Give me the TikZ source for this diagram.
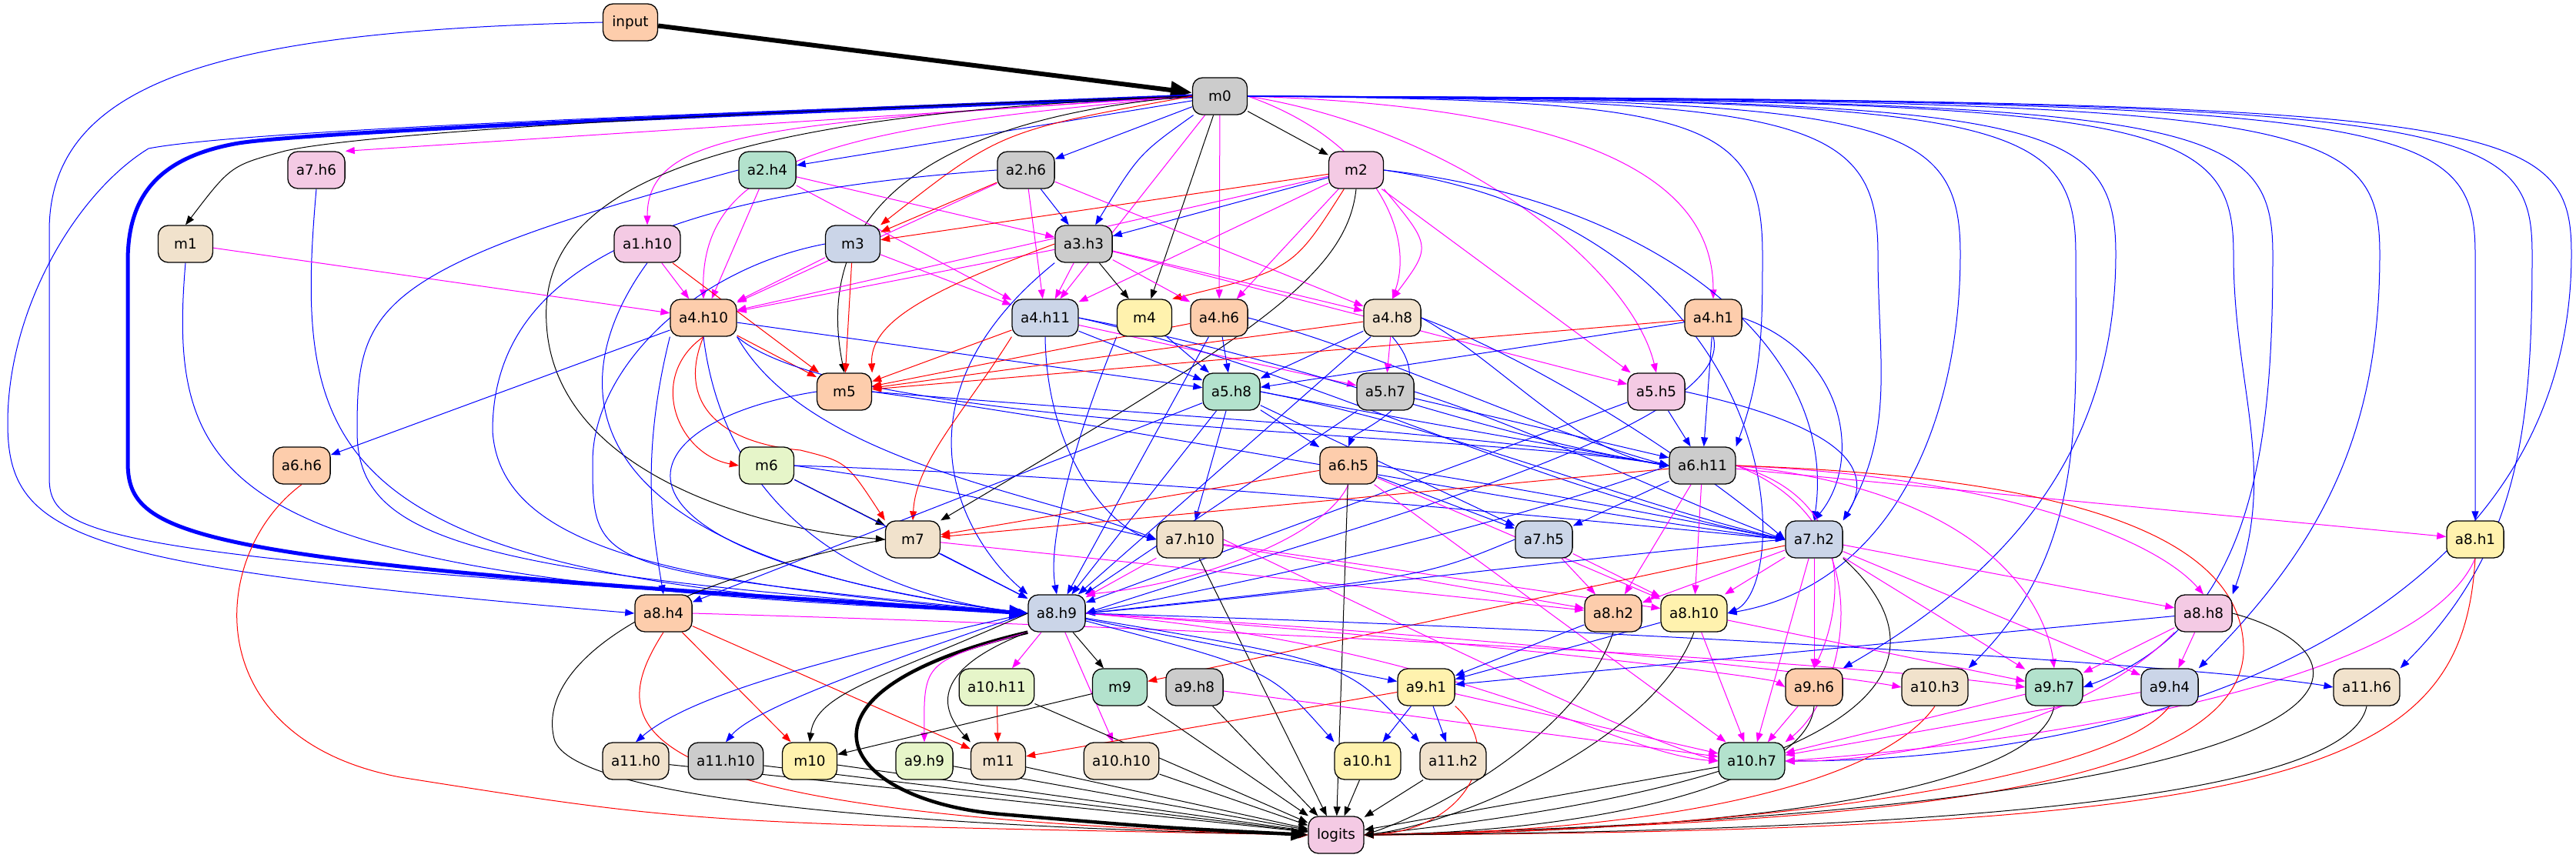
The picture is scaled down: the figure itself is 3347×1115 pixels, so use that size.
\documentclass[tikz,border=0pt]{standalone}
\usepackage{fontspec}
\setmainfont{DejaVu Sans}
\usetikzlibrary{arrows.meta}
\pgfdeclarelayer{background}
\pgfsetlayers{background,main}
\definecolor{cpeach}{HTML}{FDCDAC}
\definecolor{cgrey}{HTML}{CCCCCC}
\definecolor{cpink}{HTML}{F4CAE4}
\definecolor{cmint}{HTML}{B3E2CD}
\definecolor{cbeige}{HTML}{F1E2CC}
\definecolor{cblue}{HTML}{CBD5E8}
\definecolor{cyellow}{HTML}{FFF2AE}
\definecolor{cgreen}{HTML}{E6F5C9}
\definecolor{emag}{RGB}{255,0,255}
\definecolor{eblue}{RGB}{0,0,255}
\definecolor{ered}{RGB}{255,0,0}
\tikzstyle{box} = [rectangle, rounded corners=13pt,
minimum width=71pt,
minimum height=48pt,
inner xsep=11pt,
draw=black, line width=1.3pt,
font=\fontsize{18.4pt}{22pt}\selectfont]
\tikzstyle{arrow} = [-{Triangle[length=12pt,width=9pt]}, line width=1pt]
\tikzstyle{bl} = [arrow, eblue]
\tikzstyle{rd} = [arrow, ered]
\tikzstyle{mg} = [arrow, emag]
\tikzstyle{bk} = [arrow, black]

\begin{document}
\begin{tikzpicture}[x=1pt, y=-1pt]

\useasboundingbox (0,0) rectangle (3347,1115);

% row 0 and 1
\node[box, fill=cpeach] (input) at (819,29) {input};
\node[box, fill=cgrey] (m0) at (1585,125) {m0};
% row 2
\node[box, fill=cpink] (a7h6) at (411,221) {a7.h6};
\node[box, fill=cmint] (a2h4) at (997,221) {a2.h4};
\node[box, fill=cgrey] (a2h6) at (1333,221) {a2.h6};
\node[box, fill=cpink] (m2) at (1762,221) {m2};
% row 3
\node[box, fill=cbeige] (m1) at (241,317) {m1};
\node[box, fill=cpink] (a1h10) at (841,317) {a1.h10};
\node[box, fill=cblue] (m3) at (1108,317) {m3};
\node[box, fill=cgrey] (a3h3) at (1408,317) {a3.h3};
% row 4
\node[box, fill=cpeach] (a4h10) at (914,413) {a4.h10};
\node[box, fill=cblue] (a4h11) at (1358,413) {a4.h11};
\node[box, fill=cyellow] (m4) at (1487,413) {m4};
\node[box, fill=cpeach] (a4h6) at (1584,413) {a4.h6};
\node[box, fill=cbeige] (a4h8) at (1809,413) {a4.h8};
\node[box, fill=cpeach] (a4h1) at (2226,413) {a4.h1};
% row 5
\node[box, fill=cpeach] (m5) at (1097,509) {m5};
\node[box, fill=cmint] (a5h8) at (1600,509) {a5.h8};
\node[box, fill=cgrey] (a5h7) at (1800,509) {a5.h7};
\node[box, fill=cpink] (a5h5) at (2152,509) {a5.h5};
% row 6
\node[box, fill=cpeach] (a6h6) at (392,605) {a6.h6};
\node[box, fill=cgreen] (m6) at (996,605) {m6};
\node[box, fill=cpeach] (a6h5) at (1752,605) {a6.h5};
\node[box, fill=cgrey] (a6h11) at (2212,605) {a6.h11};
% row 7
\node[box, fill=cbeige] (m7) at (1186,701) {m7};
\node[box, fill=cbeige] (a7h10) at (1546,701) {a7.h10};
\node[box, fill=cblue] (a7h5) at (2006,701) {a7.h5};
\node[box, fill=cblue] (a7h2) at (2357,701) {a7.h2};
\node[box, fill=cyellow] (a8h1) at (3216,701) {a8.h1};
% row 8
\node[box, fill=cpeach] (a8h4) at (862,797) {a8.h4};
\node[box, fill=cblue] (a8h9) at (1373,797) {a8.h9};
\node[box, fill=cpeach] (a8h2) at (2096,797) {a8.h2};
\node[box, fill=cyellow] (a8h10) at (2201,797) {a8.h10};
\node[box, fill=cpink] (a8h8) at (2863,797) {a8.h8};
% row 9
\node[box, fill=cgreen] (a10h11) at (1295,893) {a10.h11};
\node[box, fill=cmint] (m9) at (1455,893) {m9};
\node[box, fill=cgrey] (a9h8) at (1552,893) {a9.h8};
\node[box, fill=cyellow] (a9h1) at (1853,893) {a9.h1};
\node[box, fill=cpeach] (a9h6) at (2357,893) {a9.h6};
\node[box, fill=cbeige] (a10h3) at (2514,893) {a10.h3};
\node[box, fill=cmint] (a9h7) at (2669,893) {a9.h7};
\node[box, fill=cblue] (a9h4) at (2819,893) {a9.h4};
\node[box, fill=cbeige] (a11h6) at (3075,893) {a11.h6};
% row 10
\node[box, fill=cbeige] (a11h0) at (826,989) {a11.h0};
\node[box, fill=cgrey] (a11h10) at (943,989) {a11.h10};
\node[box, fill=cyellow] (m10) at (1052,989) {m10};
\node[box, fill=cgreen] (a9h9) at (1201,989) {a9.h9};
\node[box, fill=cbeige] (m11) at (1297,989) {m11};
\node[box, fill=cbeige] (a10h10) at (1457,989) {a10.h10};
\node[box, fill=cyellow] (a10h1) at (1777,989) {a10.h1};
\node[box, fill=cbeige] (a11h2) at (1888,989) {a11.h2};
\node[box, fill=cmint] (a10h7) at (2276,989) {a10.h7};
% row 11
\node[box, fill=cpink] (logits) at (1736,1085) {logits};

\begin{pgfonlayer}{background}
% Edges
\draw[bk, line width=6pt, -{Triangle[length=28pt,width=22pt]}] (input) -- (m0);
\draw[bl] (input.west) .. controls (300,40) and (64,100) .. (64,300) -- (64,620) .. controls (64,700) and (120,725) .. (a8h9.west);

% from m0, left side
\draw[bl, line width=5pt, -{Triangle[length=24pt,width=18pt]}] (m0.west) .. controls (900,150) and (400,172) .. (310,186) .. controls (200,205) and (166,260) .. (166,340) -- (166,600) .. controls (166,700) and (240,730) .. (a8h9.west);
\draw[bl] (m0.west) .. controls (800,150) and (300,172) .. (193,193) .. controls (100,250) and (10,400) .. (10,550) .. controls (10,700) and (100,735) .. (a8h4.west);
\draw[bk] (m0.west) .. controls (800,150) and (450,178) .. (371,196) .. controls (300,215) .. (m1.north);
\draw[mg] (m0.west) -- (a7h6.north east);
\draw[bl] (m0) -- (a2h4);
\draw[mg] (m0.west) .. controls (1000,160) and (841,170) .. (a1h10.north);
\draw[mg] (m0.west) .. controls (1100,165) and (910,200) .. (a4h10.north);
\draw[bk] (m0.west) .. controls (1250,150) and (1050,250) .. (m5.north);
\draw[bk] (m0.west) .. controls (900,150) and (700,250) .. (710,420) .. controls (720,620) and (1000,690) .. (m7.west);
\draw[rd] (m0.west) .. controls (1300,170) .. (m3.north east);
\draw[bl] (m0) -- (a2h6);
\draw[bk] (m0) -- (m2);
\draw[bl] (m0) .. controls (1480,200) .. (a3h3);
\draw[bk] (m0) -- (m4);
\draw[mg] (m0) -- (a4h6);
\draw[mg] (m0) -- (a4h11);

% from m0, right side
\draw[mg] (m0.east) .. controls (1780,180) and (1840,300) .. (a4h8.north);
\draw[mg] (m0.east) .. controls (1900,170) and (2120,350) .. (a5h5.north);
\draw[mg] (m0.east) .. controls (2100,140) and (2226,250) .. (a4h1.north);
\draw[bl] (m0.east) .. controls (2200,130) and (2290,150) .. (2290,330) to[out=-90,in=70] (a6h11.north east);
\draw[bl] (m0.east) .. controls (2340,130) and (2440,150) .. (2440,330) to[out=-90,in=60] (a7h2.north east);
\draw[bl] (m0.east) .. controls (2450,130) and (2547,150) .. (2547,330) to[out=-90,in=10] (a8h10.east);
\draw[bl] (m0.east) .. controls (2600,130) and (2697,150) .. (2697,330) to[out=-90,in=45] (a10h3.north east);
\draw[bl] (m0.east) .. controls (2650,130) and (2749,150) .. (2749,330) to[out=-90,in=30] (a9h6.north east);
\draw[bl] (m0.east) .. controls (2800,130) and (2902,150) .. (2902,330) to[out=-90,in=70] (a8h8.north east);
\draw[bl] (m0.east) .. controls (2850,130) and (2953,150) .. (2953,330) to[out=-90,in=20] (a9h7.east);
\draw[bl] (m0.east) .. controls (3000,130) and (3092,150) .. (3092,330) to[out=-90,in=45] (a9h4.north east);
\draw[bl] (m0.east) .. controls (3120,130) and (3216,150) .. (3216,330) -- (a8h1.north);
\draw[bl] (m0.east) .. controls (3200,130) and (3290,150) .. (3290,330) to[out=-90,in=45] (a11h6.north east);
\draw[bl] (m0.east) .. controls (3250,130) and (3341,150) .. (3341,330) to[out=-90,in=0] (a10h7.east);

% row 2 and 3
\draw[bl] (a7h6.south) .. controls (380,600) and (420,760) .. (a8h9.west);
\draw[mg] (m1) -- (a4h10);
\draw[bl] (m1.south) .. controls (215,650) and (300,755) .. (a8h9.west);
\draw[mg] (a2h4) -- (a3h3);
\draw[mg] (a2h4) -- (a4h11);
\draw[mg] (a2h4) -- (a4h10);
\draw[bl] (a2h4.west) .. controls (480,350) and (464,400) .. (464,560) .. controls (464,700) and (600,745) .. (a8h9.west);
\draw[rd] (a2h6) -- (m3);
\draw[bl] (a2h6) -- (a3h3);
\draw[mg] (a2h6) -- (a4h11);
\draw[mg] (a2h6) -- (a4h8);
\draw[mg] (a2h6) -- (a4h10);
\draw[bl] (a2h6.west) .. controls (900,250) and (640,330) .. (640,560) .. controls (650,720) and (900,760) .. (a8h9.west);
\draw[rd] (m2) -- (m3);
\draw[bl] (m2) -- (a3h3);
\draw[mg] (m2) -- (a4h10);
\draw[mg] (m2) -- (a4h11);
\draw[rd] (m2) .. controls (1680,350) .. (m4.north east);
\draw[mg] (m2) -- (a4h6);
\draw[mg] (m2.south east) .. controls (1860,320) .. (a4h8.north);
\draw[mg] (m2) -- (a5h5);
\draw[bk] (m2.south) .. controls (1750,360) and (1620,440) .. (m7.north east);
\draw[bl] (m2.east) .. controls (2150,260) and (2390,450) .. (a7h2.north);
\draw[bl] (m2.east) .. controls (2330,300) and (2330,760) .. (a8h10.east);
\draw[mg] (a1h10) -- (a4h10);
\draw[rd] (a1h10) -- (m5);
\draw[bl] (a1h10.south) .. controls (740,480) and (700,720) .. (a8h9.west);
\draw[mg] (m3) -- (a4h10);
\draw[mg] (m3) -- (a4h11);
\draw[rd] (m3) -- (m5);
\draw[bl] (m3.west) .. controls (900,350) and (770,480) .. (770,600) .. controls (770,740) .. (a8h9.west);
\draw[mg] (a3h3) -- (a4h11);
\draw[bk] (a3h3) -- (m4);
\draw[mg] (a3h3) -- (a4h6);
\draw[mg] (a3h3) -- (a4h8);
\draw[mg] (a3h3) -- (a5h5);
\draw[mg] (a3h3) -- (a4h10);
\draw[rd] (a3h3.west) .. controls (1200,380) and (1130,420) .. (m5.north east);
\draw[bl] (a3h3.south west) .. controls (1150,520) and (1250,700) .. (a8h9.north west);

% row 4
\draw[rd] (a4h10) -- (m5);
\draw[rd] (a4h10.south) .. controls (840,490) and (880,590) .. (m6.west);
\draw[rd] (a4h10.south) .. controls (880,520) and (930,575) .. (1040,585) .. controls (1100,600) .. (m7.north west);
\draw[bl] (a4h10) -- (a6h6);
\draw[bl] (a4h10) -- (a5h8);
\draw[bl] (a4h10.south west) .. controls (830,600) and (850,700) .. (a8h4.north);
\draw[bl] (a4h10.south) .. controls (940,650) and (1100,770) .. (a8h9.west);
\draw[bl] (a4h10.south east) .. controls (1050,600) and (1350,640) .. (a7h10.west);
\draw[bl] (a4h10.south east) .. controls (1100,560) and (1900,560) .. (a6h11.west);
\draw[bl] (a4h11) -- (a5h8);
\draw[mg] (a4h11) -- (a5h7);
\draw[rd] (a4h11) -- (m5);
\draw[rd] (a4h11.south west) .. controls (1250,540) and (1190,600) .. (m7.north);
\draw[bl] (a4h11.south) .. controls (1360,600) and (1450,690) .. (a7h10.west);
\draw[bl] (a4h11.east) .. controls (1700,470) and (1900,560) .. (a6h11.west);
\draw[bl] (a4h11.east) .. controls (1700,480) and (2000,640) .. (a7h2.west);
\draw[bl] (m4) -- (a5h8);
\draw[bl] (m4.south west) .. controls (1400,560) and (1360,700) .. (a8h9.north);
\draw[rd] (a4h6) -- (m5);
\draw[bl] (a4h6) -- (a5h8);
\draw[bl] (a4h6) -- (a8h9);
\draw[bl] (a4h6.east) .. controls (1800,460) and (2000,560) .. (a6h11.west);
\draw[rd] (a4h8) -- (m5);
\draw[bl] (a4h8) -- (a5h8);
\draw[mg] (a4h8) -- (a5h7);
\draw[bl] (a4h8) -- (a8h9);
\draw[bl] (a4h8.east) .. controls (1950,470) and (2050,590) .. (a6h11.west);
\draw[bl] (a4h8.east) .. controls (2000,470) and (2200,600) .. (a7h2.west);
\draw[bl] (a4h8.south) .. controls (1880,520) and (1760,560) .. (a6h5.north);
\draw[rd] (a4h1) -- (m5);
\draw[bl] (a4h1) -- (a5h8);
\draw[bl] (a4h1) -- (a6h11);
\draw[bl] (a4h1.east) .. controls (2400,460) and (2420,600) .. (a7h2.north);
\draw[bl] (a4h1.south) .. controls (2260,560) and (1700,700) .. (a8h9.east);

% row 5
\draw[bl] (m5.west) .. controls (800,550) and (740,720) .. (a8h9.west);
\draw[bl] (m5.east) .. controls (1500,540) and (1900,560) .. (a6h11.west);
\draw[bl] (m5.east) .. controls (1500,560) and (2000,660) .. (a7h2.west);
\draw[bl] (a5h8) -- (a6h5);
\draw[bl] (a5h8) -- (a7h10);
\draw[bl] (a5h8) -- (a8h9);
\draw[bl] (a5h8) -- (a7h5);
\draw[bl] (a5h8.east) .. controls (1800,540) .. (a6h11.west);
\draw[bl] (a5h8.east) .. controls (1900,560) and (2100,650) .. (a7h2.west);
\draw[bl] (a5h8) -- (a8h4);
\draw[bl] (a5h7) -- (a6h11);
\draw[bl] (a5h7.east) .. controls (2000,560) and (2200,660) .. (a7h2.west);
\draw[bl] (a5h7) -- (a8h9);
\draw[bl] (a5h5) -- (a6h11);
\draw[bl] (a5h5.east) .. controls (2420,560) and (2430,620) .. (a7h2.north east);
\draw[bl] (a5h5) -- (a8h9);

% row 6
\draw[rd] (a6h6.south) .. controls (270,720) and (255,960) .. (520,1010) .. controls (900,1070) .. (logits.west);
\draw[bk] (m6) -- (m7);
\draw[bl] (m6) -- (a8h9);
\draw[bl] (m6.east) .. controls (1200,630) .. (a7h10.west);
\draw[bl] (m6.east) .. controls (1500,620) and (2100,680) .. (a7h2.west);
\draw[rd] (a6h5) -- (m7);
\draw[bl] (a6h5) -- (a7h5);
\draw[bl] (a6h5.east) .. controls (2000,640) .. (a7h2.west);
\draw[mg] (a6h5) -- (a8h10);
\draw[mg] (a6h5.south) .. controls (1720,700) and (1550,760) .. (a8h9.north east);
\draw[mg] (a6h5) -- (a10h7);
\draw[bk] (a6h5) -- (logits);
\draw[rd] (a6h11) -- (m7);
\draw[bl] (a6h11) -- (a7h5);
\draw[bl] (a6h11.west) .. controls (1900,700) and (1600,760) .. (a8h9.east);
\draw[mg] (a6h11) -- (a8h2);
\draw[mg] (a6h11) -- (a8h10);
\draw[mg] (a6h11) -- (a8h1);
\draw[mg] (a6h11.east) .. controls (2600,620) and (2800,700) .. (a8h8.north);
\draw[mg] (a6h11.east) .. controls (2420,650) and (2390,800) .. (a9h6.north);
\draw[mg] (a6h11.east) .. controls (2600,640) and (2660,800) .. (a9h7.north);
\draw[mg] (a6h11.east) .. controls (2450,680) and (2400,900) .. (a10h7.north east);
\draw[rd] (a6h11.east) .. controls (2700,620) and (2920,700) .. (2915,850) .. controls (2900,1050) and (2300,1070) .. (logits.east);

% row 7
\draw[bl] (m7) -- (a8h9);
\draw[mg] (m7) -- (a8h2);
\draw[bk] (m7.west) .. controls (800,770) and (700,880) .. (720,960) .. controls (740,1040) and (1200,1075) .. (logits.west);
\draw[mg] (a7h10) -- (a8h9);
\draw[mg] (a7h10) -- (a8h2);
\draw[mg] (a7h10) -- (a8h10);
\draw[mg] (a7h10.east) .. controls (1800,800) and (2100,950) .. (a10h7.west);
\draw[bk] (a7h10) -- (logits);
\draw[bl] (a7h5.west) .. controls (1850,750) .. (a8h9.east);
\draw[mg] (a7h5) -- (a8h2);
\draw[mg] (a7h5) -- (a8h10);
\draw[bl] (a7h2.west) .. controls (2100,720) and (1700,770) .. (a8h9.east);
\draw[rd] (a7h2) -- (m9);
\draw[mg] (a7h2) -- (a8h2);
\draw[mg] (a7h2) -- (a8h10);
\draw[mg] (a7h2) -- (a8h8);
\draw[mg] (a7h2) -- (a9h6);
\draw[mg] (a7h2) -- (a9h7);
\draw[mg] (a7h2) -- (a9h4);
\draw[mg] (a7h2) -- (a10h7);
\draw[bk] (a7h2.south east) .. controls (2500,820) and (2560,1000) .. (logits.east);
\draw[mg] (a8h1.south) .. controls (3150,880) and (2700,960) .. (a10h7.east);
\draw[rd] (a8h1.south) .. controls (3200,1000) and (3000,1080) .. (logits.east);

% row 8
\draw[rd] (a8h4) -- (m10);
\draw[rd] (a8h4) -- (m11);
\draw[rd] (a8h4.south) .. controls (780,950) and (800,1060) .. (logits.west);
\draw[mg] (a8h4.east) .. controls (1700,820) and (2400,860) .. (a9h7.west);
\draw[bk, line width=4.5pt, -{Triangle[length=22pt,width=16pt]}] (a8h9.south west) .. controls (1000,900) and (1090,1040) .. (1300,1058) .. controls (1500,1075) .. (logits.west);
\draw[mg] (a8h9) -- (a10h11);
\draw[bk] (a8h9) -- (m9);
\draw[bl] (a8h9) -- (a9h1);
\draw[bl] (a8h9) .. controls (1650,870) .. (a10h1.north west);
\draw[bl] (a8h9) .. controls (1750,860) .. (a11h2.north west);
\draw[bl] (a8h9.west) .. controls (1100,850) and (900,900) .. (a11h0.north);
\draw[bl] (a8h9.west) .. controls (1150,860) and (980,920) .. (a11h10.north);
\draw[bk] (a8h9.west) .. controls (1150,880) and (1060,900) .. (m10.north);
\draw[mg] (a8h9.south west) .. controls (1200,860) .. (a9h9.north);
\draw[bk] (a8h9.south west) .. controls (1210,870) and (1220,920) .. (m11.north west);
\draw[mg] (a8h9) -- (a10h10);
\draw[mg] (a8h9.east) .. controls (1900,830) and (2300,880) .. (a9h6.west);
\draw[mg] (a8h9.east) .. controls (2000,830) and (2400,880) .. (a10h3.west);
\draw[mg] (a8h9.east) .. controls (1900,840) and (2100,980) .. (a10h7.west);
\draw[bl] (a8h9.east) .. controls (2200,820) and (2900,870) .. (a11h6.west);
\draw[bl] (a8h2) -- (a9h1);
\draw[bk] (a8h2.south) .. controls (2050,960) and (1850,1060) .. (logits.east);
\draw[bl] (a8h10) -- (a9h1);
\draw[mg] (a8h10) -- (a9h7);
\draw[mg] (a8h10) -- (a10h7);
\draw[bk] (a8h10.south) .. controls (2150,960) and (1900,1070) .. (logits.east);
\draw[bl] (a8h8) -- (a9h1);
\draw[mg] (a8h8) -- (a9h7);
\draw[mg] (a8h8) -- (a9h4);
\draw[mg] (a8h8.south west) .. controls (2700,950) and (2450,990) .. (a10h7.east);
\draw[bk] (a8h8.east) .. controls (3100,850) and (3150,1050) .. (logits.east);

% row 9
\draw[rd] (a10h11) -- (m11);
\draw[bk] (a10h11) -- (logits);
\draw[bk] (m9) -- (m10);
\draw[bk] (m9) -- (logits);
\draw[mg] (a9h8) -- (a10h7);
\draw[bk] (a9h8) -- (logits);
\draw[rd] (a9h1) -- (m11);
\draw[bl] (a9h1) -- (a10h1);
\draw[bl] (a9h1) -- (a11h2);
\draw[mg] (a9h1) -- (a10h7);
\draw[rd] (a9h1.south east) .. controls (1960,980) and (1900,1080) .. (logits.east);
\draw[mg] (a9h6) -- (a10h7);
\draw[bk] (a9h6.south) .. controls (2350,1010) and (2100,1080) .. (logits.east);
\draw[rd] (a10h3.south) .. controls (2450,1010) and (2200,1080) .. (logits.east);
\draw[mg] (a9h7) -- (a10h7);
\draw[bk] (a9h7.south) .. controls (2650,1020) and (2300,1080) .. (logits.east);
\draw[mg] (a9h4) -- (a10h7);
\draw[rd] (a9h4.south) .. controls (2750,1010) and (2300,1080) .. (logits.east);
\draw[bk] (a11h6.south) .. controls (3050,1040) and (2500,1080) .. (logits.east);

% row 10
\draw[bk] (a11h0) -- (logits);
\draw[bk] (a11h10) -- (logits);
\draw[bk] (m10) -- (logits);
\draw[bk] (a9h9) -- (logits);
\draw[bk] (m11) -- (logits);
\draw[bk] (a10h10) -- (logits);
\draw[bk] (a10h1) -- (logits);
\draw[bk] (a11h2) -- (logits);
\draw[bk] (a10h7) -- (logits);
\end{pgfonlayer}

\end{tikzpicture}
\end{document}
